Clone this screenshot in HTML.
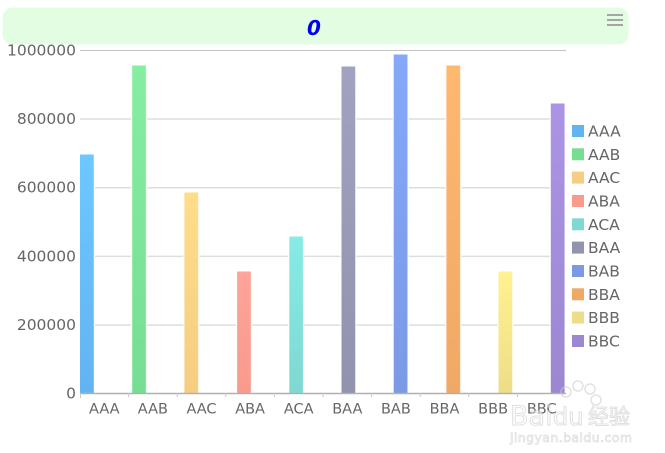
<!DOCTYPE html>
<html>
<head>
<meta charset="utf-8">
<style>
html,body{margin:0;padding:0;background:#fff;}
svg{display:block;}
text{font-family:"DejaVu Sans","Liberation Sans","Noto Sans CJK SC",sans-serif;}
</style>
</head>
<body>
<svg width="665" height="453" viewBox="0 0 665 453" xmlns="http://www.w3.org/2000/svg">
<defs>
<linearGradient id="g0" x1="0" y1="0" x2="0" y2="1"><stop offset="0" stop-color="#6dc8ff"/><stop offset="1" stop-color="#62b4f0"/></linearGradient>
<linearGradient id="g1" x1="0" y1="0" x2="0" y2="1"><stop offset="0" stop-color="#85eea0"/><stop offset="1" stop-color="#76de93"/></linearGradient>
<linearGradient id="g2" x1="0" y1="0" x2="0" y2="1"><stop offset="0" stop-color="#fedd8a"/><stop offset="1" stop-color="#f6cd82"/></linearGradient>
<linearGradient id="g3" x1="0" y1="0" x2="0" y2="1"><stop offset="0" stop-color="#fea498"/><stop offset="1" stop-color="#f99a8c"/></linearGradient>
<linearGradient id="g4" x1="0" y1="0" x2="0" y2="1"><stop offset="0" stop-color="#88ebe5"/><stop offset="1" stop-color="#7fd8d2"/></linearGradient>
<linearGradient id="g5" x1="0" y1="0" x2="0" y2="1"><stop offset="0" stop-color="#a0a2c0"/><stop offset="1" stop-color="#9293ae"/></linearGradient>
<linearGradient id="g6" x1="0" y1="0" x2="0" y2="1"><stop offset="0" stop-color="#86a8fa"/><stop offset="1" stop-color="#7a9ae5"/></linearGradient>
<linearGradient id="g7" x1="0" y1="0" x2="0" y2="1"><stop offset="0" stop-color="#feb870"/><stop offset="1" stop-color="#f0a866"/></linearGradient>
<linearGradient id="g8" x1="0" y1="0" x2="0" y2="1"><stop offset="0" stop-color="#fff290"/><stop offset="1" stop-color="#eedd88"/></linearGradient>
<linearGradient id="g9" x1="0" y1="0" x2="0" y2="1"><stop offset="0" stop-color="#ab94e5"/><stop offset="1" stop-color="#9b88d0"/></linearGradient>
</defs>

<!-- title box -->
<rect x="2.5" y="7.5" width="626" height="37" rx="10" ry="10" fill="#e3fde3"/>
<text x="314" y="35" font-size="20" font-weight="bold" font-style="italic" fill="#0000ee" text-anchor="middle">0</text>
<rect x="607" y="14" width="16" height="2" fill="#a5a5a5"/>
<rect x="607" y="19" width="16" height="2" fill="#a5a5a5"/>
<rect x="607" y="24" width="16" height="2" fill="#a5a5a5"/>

<!-- gridlines -->
<line x1="80" y1="50.5" x2="566" y2="50.5" stroke="#c4c4c4" stroke-width="1"/>
<line x1="80" y1="119" x2="566" y2="119" stroke="#dedede" stroke-width="1.5"/>
<line x1="80" y1="187.7" x2="566" y2="187.7" stroke="#dedede" stroke-width="1.5"/>
<line x1="80" y1="256.4" x2="566" y2="256.4" stroke="#dedede" stroke-width="1.5"/>
<line x1="80" y1="325.1" x2="566" y2="325.1" stroke="#dedede" stroke-width="1.5"/>

<!-- y labels -->
<g font-size="15.5" fill="#666" text-anchor="end">
<text x="76" y="55.5">1000000</text>
<text x="76" y="124">800000</text>
<text x="76" y="192.7">600000</text>
<text x="76" y="261.4">400000</text>
<text x="76" y="330.1">200000</text>
<text x="76" y="398.5">0</text>
</g>

<!-- bars -->
<g stroke="#ffffff" stroke-width="1">
<rect x="79.5" y="154" width="15" height="239.5" fill="url(#g0)"/>
<rect x="131.7" y="65" width="15" height="328.5" fill="url(#g1)"/>
<rect x="183.9" y="192" width="15" height="201.5" fill="url(#g2)"/>
<rect x="236.6" y="271" width="15" height="122.5" fill="url(#g3)"/>
<rect x="288.8" y="236" width="15" height="157.5" fill="url(#g4)"/>
<rect x="341" y="66" width="15" height="327.5" fill="url(#g5)"/>
<rect x="393.2" y="54" width="15" height="339.5" fill="url(#g6)"/>
<rect x="445.9" y="65" width="15" height="328.5" fill="url(#g7)"/>
<rect x="498" y="271" width="15" height="122.5" fill="url(#g8)"/>
<rect x="550.3" y="103" width="15" height="290.5" fill="url(#g9)"/>
</g>
<g fill="#ffffff" opacity="0.45">
<rect x="93.5" y="154" width="1" height="239.5"/>
<rect x="145.7" y="65" width="1" height="328.5"/>
<rect x="197.9" y="192" width="1" height="201.5"/>
<rect x="250.6" y="271" width="1" height="122.5"/>
<rect x="302.8" y="236" width="1" height="157.5"/>
<rect x="355" y="66" width="1" height="327.5"/>
<rect x="407.2" y="54" width="1" height="339.5"/>
<rect x="459.9" y="65" width="1" height="328.5"/>
<rect x="512" y="271" width="1" height="122.5"/>
<rect x="564.3" y="103" width="1" height="290.5"/>
</g>

<!-- x axis -->
<line x1="80" y1="393.5" x2="566" y2="393.5" stroke="#b0b0b0" stroke-width="1.5"/>
<g stroke="#c8c8c8" stroke-width="1">
<line x1="80.5" y1="393" x2="80.5" y2="398"/>
<line x1="128.6" y1="393" x2="128.6" y2="397"/>
<line x1="177.2" y1="393" x2="177.2" y2="397"/>
<line x1="225.8" y1="393" x2="225.8" y2="397"/>
<line x1="274.4" y1="393" x2="274.4" y2="397"/>
<line x1="323" y1="393" x2="323" y2="397"/>
<line x1="371.6" y1="393" x2="371.6" y2="397"/>
<line x1="420.2" y1="393" x2="420.2" y2="397"/>
<line x1="468.8" y1="393" x2="468.8" y2="397"/>
<line x1="517.4" y1="393" x2="517.4" y2="397"/>
</g>
<g font-size="14.5" fill="#666" text-anchor="middle">
<text x="104.3" y="413.5">AAA</text>
<text x="152.9" y="413.5">AAB</text>
<text x="201.5" y="413.5">AAC</text>
<text x="250.1" y="413.5">ABA</text>
<text x="298.7" y="413.5">ACA</text>
<text x="347.3" y="413.5">BAA</text>
<text x="395.9" y="413.5">BAB</text>
<text x="444.5" y="413.5">BBA</text>
<text x="493.1" y="413.5">BBB</text>
<text x="541.7" y="413.5">BBC</text>
</g>

<!-- legend -->
<g>
<rect x="572" y="125" width="12" height="12" fill="#62b4f0"/>
<rect x="572" y="148.3" width="12" height="12" fill="#76de93"/>
<rect x="572" y="171.6" width="12" height="12" fill="#f6cd82"/>
<rect x="572" y="195" width="12" height="12" fill="#f99a8c"/>
<rect x="572" y="218.3" width="12" height="12" fill="#7fd8d2"/>
<rect x="572" y="241.6" width="12" height="12" fill="#9293ae"/>
<rect x="572" y="265" width="12" height="12" fill="#7a9ae5"/>
<rect x="572" y="288.3" width="12" height="12" fill="#f0a866"/>
<rect x="572" y="311.6" width="12" height="12" fill="#eedd88"/>
<rect x="572" y="335" width="12" height="12" fill="#9b88d0"/>
</g>
<g font-size="15.5" fill="#666">
<text x="588" y="136.5">AAA</text>
<text x="588" y="159.8">AAB</text>
<text x="588" y="183.1">AAC</text>
<text x="588" y="206.5">ABA</text>
<text x="588" y="229.8">ACA</text>
<text x="588" y="253.1">BAA</text>
<text x="588" y="276.5">BAB</text>
<text x="588" y="299.8">BBA</text>
<text x="588" y="323.1">BBB</text>
<text x="588" y="346.5">BBC</text>
</g>

<!-- watermark -->
<g opacity="0.55">
<circle cx="566" cy="392" r="5" fill="none" stroke="#ccc" stroke-width="1.5"/>
<circle cx="578" cy="386" r="5" fill="none" stroke="#ccc" stroke-width="1.5"/>
<circle cx="590" cy="389" r="5" fill="none" stroke="#ccc" stroke-width="1.5"/>
<circle cx="596" cy="400" r="5" fill="none" stroke="#ccc" stroke-width="1.5"/>
<text x="510" y="425" font-size="27" fill="#fff" stroke="#c8c8c8" stroke-width="1" font-family="Liberation Sans, sans-serif">Bai</text>
<text x="553" y="425" font-size="24" fill="#fff" stroke="#c8c8c8" stroke-width="1" font-family="Liberation Sans, sans-serif">du</text>
<text x="588" y="424" font-size="21" fill="#fff" stroke="#c8c8c8" stroke-width="1" font-family="Noto Sans CJK SC, sans-serif">经验</text>
<text x="510" y="442" font-size="12.5" fill="#fff" stroke="#c8c8c8" stroke-width="0.8" font-family="Liberation Sans, sans-serif" textLength="122">jingyan.baidu.com</text>
</g>
</svg>
</body>
</html>
